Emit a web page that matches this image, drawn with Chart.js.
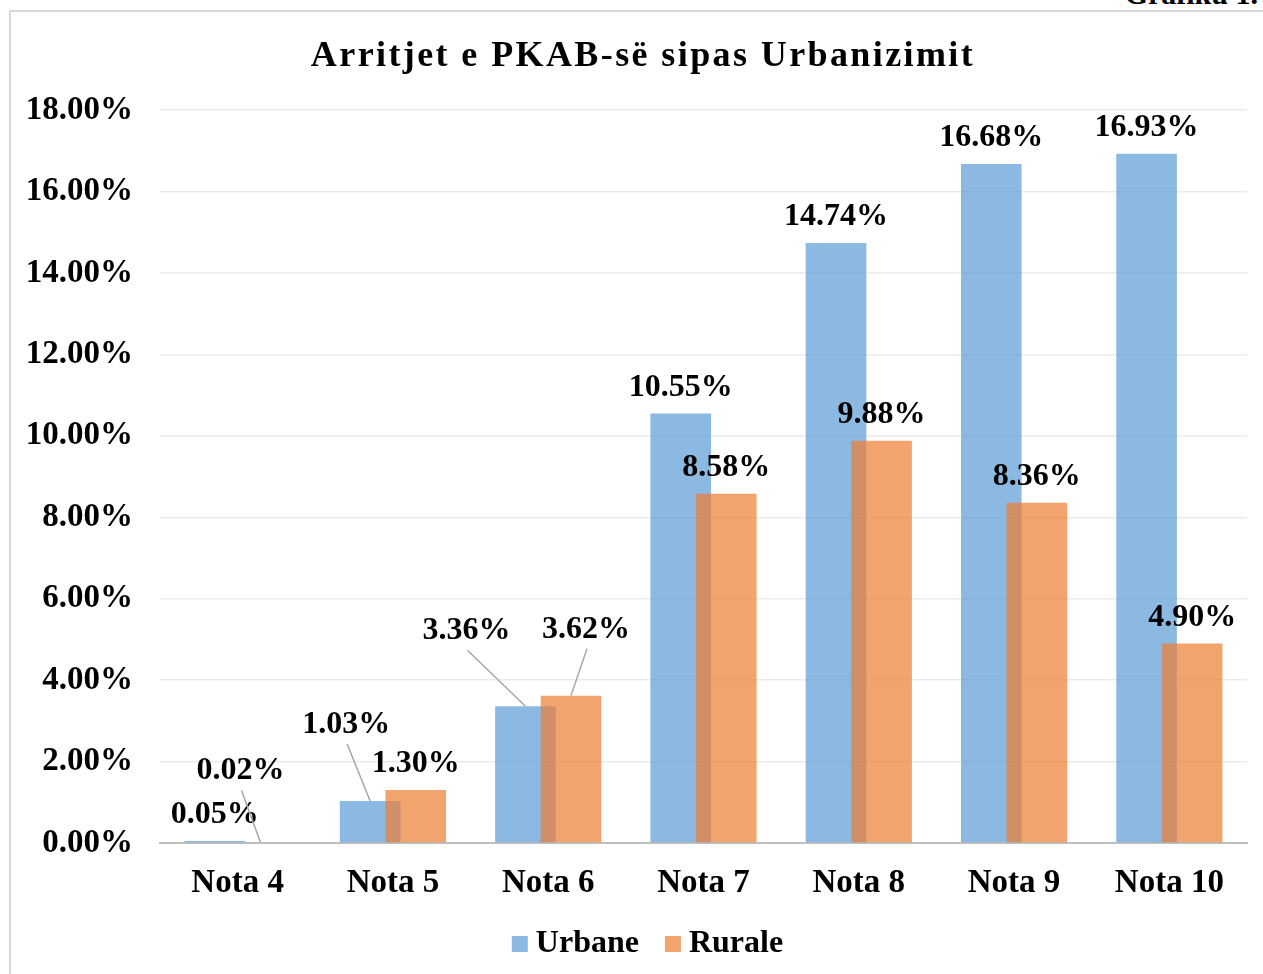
<!DOCTYPE html>
<html>
<head>
<meta charset="utf-8">
<script src="https://cdn.jsdelivr.net/npm/chart.js@4.4.1/dist/chart.umd.min.js"></script>
<style>
  html, body { margin: 0; padding: 0; background: #fff; overflow: hidden; }
  body { width: 1263px; height: 974px; position: relative; }
  #frame { position: absolute; left: 9px; top: 10px; width: 1300px; height: 1000px; border: 2px solid #D9D9D9; box-sizing: border-box; }
  #caption { position: absolute; top: -21px; right: 5px; font: bold 30px "Liberation Serif", "Times New Roman", serif; line-height: 30px; color: #000; }
  #chart { position: absolute; left: 11px; top: 12px; }
</style>
</head>
<body>
<div id="frame"></div>
<div id="caption">Grafiku 1.</div>
<canvas id="chart" width="1252" height="1010"></canvas>
<script>
// categories and values
const categories = ['Nota 4', 'Nota 5', 'Nota 6', 'Nota 7', 'Nota 8', 'Nota 9', 'Nota 10'];
const urbane = [0.05, 1.03, 3.36, 10.55, 14.74, 16.68, 16.93];
const rurale = [0.02, 1.30, 3.62, 8.58, 9.88, 8.36, 4.90];
const yTicks = [0, 2, 4, 6, 8, 10, 12, 14, 16, 18];
const titleText = 'Arritjet e PKAB-së sipas Urbanizimit';

const SERIF = '"Liberation Serif", "Times New Roman", serif';

// labels that sit away from their bar, with a leader line (dataset index, category index)
const labelNudge = {
    '0-1': { dx: -24, dy: -50, line: true },
    '0-2': { dx: -59, dy: -49, line: true },
    '1-0': { dx: -20, dy: -45, line: true },
    '1-2': { dx: 15, dy: -40, line: true },
};

// Urbane first (left) but Rurale drawn over it, like the original
const drawOrder = {
    id: 'drawOrder',
    beforeDatasetsDraw(chart) {
        chart.data.datasets.forEach((ds, i) => chart.getDatasetMeta(i).controller.draw());
        return false;
    }
};

const barLabels = {
    id: 'barLabels',
    afterDraw(chart) {
        const ctx = chart.ctx;
        ctx.save();
        ctx.font = 'bold 32px ' + SERIF;
        ctx.textAlign = 'center';
        ctx.textBaseline = 'middle';
        chart.data.datasets.forEach((ds, di) => {
            chart.getDatasetMeta(di).data.forEach((bar, i) => {
                const n = labelNudge[di + '-' + i] || { dx: 0, dy: 0 };
                const lx = bar.x + n.dx;
                const ly = bar.y - 26 + n.dy;
                if (n.line) {
                    ctx.strokeStyle = '#A6A6A6';
                    ctx.lineWidth = 1.5;
                    ctx.beginPath();
                    ctx.moveTo(lx + 1, ly + 19);
                    ctx.lineTo(bar.x, bar.y);
                    ctx.stroke();
                }
                ctx.fillStyle = '#000';
                ctx.fillText(ds.data[i].toFixed(2) + '%', lx, ly);
            });
        });

        // title, slightly letter-spaced
        ctx.font = 'bold 36px ' + SERIF;
        ctx.letterSpacing = '2.4px';
        ctx.textBaseline = 'alphabetic';
        ctx.fillText(titleText, chart.width / 2 + 6, 54);
        ctx.restore();
    }
};

const legendShift = {
    id: 'legendShift',
    afterLayout(chart) { chart.legend.left += 45; }
};

new Chart(document.getElementById('chart'), {
    type: 'bar',
    data: {
        labels: categories,
        datasets: [
            { label: 'Urbane', data: urbane, backgroundColor: 'rgba(91,155,213,0.7)' },
            { label: 'Rurale', data: rurale, backgroundColor: 'rgba(237,125,49,0.7)' },
        ]
    },
    options: {
        responsive: false,
        animation: false,
        categoryPercentage: 0.587,
        barPercentage: 1.33,
        layout: { padding: { left: 0, right: 16, top: 0, bottom: 52 } },
        plugins: {
            title: {
                display: true,
                text: titleText,
                color: 'rgba(0,0,0,0)',
                font: { family: SERIF, size: 36, weight: 'bold' },
                padding: { top: 21, bottom: 34 },
            },
            legend: {
                position: 'bottom',
                labels: {
                    color: '#000',
                    font: { family: SERIF, size: 32, weight: 'bold' },
                    usePointStyle: true,
                    pointStyle: 'rect',
                    boxWidth: 0.01,
                    boxHeight: 16,
                    padding: 34,
                },
            },
            tooltip: { enabled: false },
        },
        scales: {
            x: {
                grid: { display: false, drawTicks: false },
                border: { display: true, color: '#BFBFBF', width: 2 },
                ticks: {
                    color: '#000',
                    padding: 21,
                    font: { family: SERIF, size: 33, weight: 'bold' },
                },
                afterFit(scale) { scale.height = 51; },
            },
            y: {
                min: 0,
                max: 18,
                afterBuildTicks(scale) { scale.ticks = yTicks.map(v => ({ value: v })); },
                grid: { color: '#EBEBEB', lineWidth: 1.5, drawTicks: false },
                border: { display: false },
                ticks: {
                    color: '#000',
                    padding: 27,
                    font: { family: SERIF, size: 33, weight: 'bold' },
                    callback: v => v.toFixed(2) + '%',
                },
                afterFit(scale) { scale.width = 149; },
            },
        },
    },
    plugins: [drawOrder, barLabels, legendShift],
});
</script>
</body>
</html>
